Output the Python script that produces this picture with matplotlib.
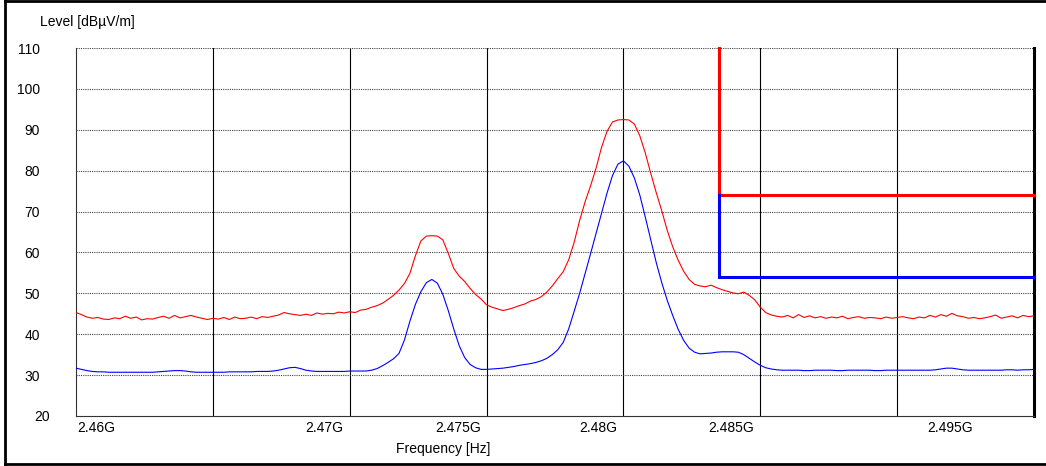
import numpy as np
import matplotlib
matplotlib.use("Agg")
import matplotlib.pyplot as plt
from matplotlib import transforms
from matplotlib.lines import Line2D

plt.rcParams['font.family'] = ['Liberation Sans', 'DejaVu Sans']
plt.rcParams['font.size'] = 10

# frequency grid of the traces, MHz (0.2 MHz steps, 2460 .. 2495)
freq_mhz = np.arange(176) * 0.2 + 2460.0

# peak detector trace, dBuV/m
peak = [
    45.3, 44.8, 44.2, 43.9, 44.1, 43.7, 43.6, 44.0, 43.8, 44.4,
    43.9, 44.2, 43.5, 43.8, 43.7, 44.1, 44.4, 43.9, 44.6, 44.0,
    44.3, 44.6, 44.2, 43.9, 43.6, 43.9, 43.7, 44.1, 43.6, 44.2,
    43.8, 43.9, 44.2, 43.8, 44.3, 44.1, 44.4, 44.7, 45.3, 45.0,
    44.8, 44.6, 44.9, 44.6, 45.2, 44.9, 45.1, 45.0, 45.4, 45.2,
    45.5, 45.3, 45.9, 46.1, 46.6, 47.0, 47.6, 48.5, 49.5, 50.8,
    52.4, 54.9, 59.2, 62.8, 64.0, 64.1, 64.0, 63.1, 59.8, 56.1,
    54.2, 52.9, 51.2, 49.7, 48.6, 47.2, 46.6, 46.2, 45.8, 46.1,
    46.5, 47.0, 47.4, 48.1, 48.5, 49.2, 50.3, 51.8, 53.6, 55.3,
    58.2, 62.5, 67.8, 72.4, 76.3, 80.6, 85.7, 89.6, 91.9, 92.4,
    92.5, 92.4, 91.4, 88.5, 84.3, 79.3, 74.6, 70.2, 65.4, 61.4,
    58.1, 55.4, 53.4, 52.2, 51.8, 51.6, 52.0, 51.4, 50.9, 50.5,
    50.1, 49.9, 50.3, 49.5, 48.4, 46.6, 45.3, 44.7, 44.4, 44.2,
    44.6, 44.0, 44.8, 44.1, 44.5, 44.0, 44.3, 43.9, 44.2, 44.0,
    44.4, 43.8, 44.1, 44.3, 43.9, 44.1, 44.0, 43.8, 44.2, 43.9,
    44.1, 44.3, 44.0, 43.8, 44.2, 44.0, 44.6, 44.2, 44.8, 44.4,
    45.1, 44.5, 44.3, 43.9, 44.1, 43.8, 44.0, 44.3, 44.7, 43.9,
    44.2, 44.5, 44.0, 44.6, 44.3, 44.5,
]

# average detector trace, dBuV/m
average = [
    31.7, 31.4, 31.1, 30.9, 30.8, 30.8, 30.7, 30.7, 30.7, 30.7,
    30.7, 30.7, 30.7, 30.7, 30.7, 30.8, 30.9, 31.0, 31.1, 31.1,
    31.0, 30.8, 30.7, 30.7, 30.7, 30.7, 30.7, 30.7, 30.8, 30.8,
    30.8, 30.8, 30.8, 30.9, 30.9, 30.9, 31.0, 31.2, 31.5, 31.8,
    31.9, 31.6, 31.2, 31.0, 30.9, 30.9, 30.9, 30.9, 30.9, 30.9,
    31.0, 31.0, 31.0, 31.0, 31.2, 31.6, 32.3, 33.1, 34.0, 35.3,
    38.6, 43.2, 47.3, 50.4, 52.6, 53.4, 52.5, 49.8, 45.8, 41.3,
    37.2, 34.3, 32.6, 31.8, 31.4, 31.4, 31.5, 31.6, 31.7, 31.9,
    32.1, 32.4, 32.6, 32.8, 33.1, 33.5, 34.1, 35.0, 36.2, 38.0,
    41.3, 45.6, 50.0, 54.8, 59.7, 64.6, 69.6, 74.5, 78.8, 81.6,
    82.4, 81.1, 78.2, 74.0, 68.6, 63.0, 57.5, 52.6, 48.3, 44.6,
    41.2, 38.5, 36.6, 35.6, 35.2, 35.3, 35.4, 35.6, 35.7, 35.7,
    35.7, 35.6, 35.0, 34.1, 33.2, 32.4, 31.8, 31.5, 31.3, 31.2,
    31.2, 31.2, 31.2, 31.1, 31.1, 31.2, 31.2, 31.2, 31.2, 31.1,
    31.1, 31.2, 31.2, 31.2, 31.2, 31.2, 31.1, 31.1, 31.2, 31.2,
    31.2, 31.2, 31.2, 31.2, 31.2, 31.2, 31.2, 31.3, 31.5, 31.7,
    31.7, 31.5, 31.3, 31.2, 31.2, 31.2, 31.2, 31.2, 31.2, 31.2,
    31.3, 31.3, 31.2, 31.3, 31.3, 31.4,
]

# limit lines (restricted band edge at 2483.5 MHz)
limit_freq = [2483.5, 2483.5, 2495.0]
peak_limit = [110, 74, 74]
avg_limit = [74, 54, 54]

# axis setup
x_grid = [2460, 2465, 2470, 2475, 2480, 2485, 2490, 2495]
y_ticks = [20, 30, 40, 50, 60, 70, 80, 90, 100, 110]
x_labels = ['2.46G', '2.47G', '2.475G', '2.48G', '2.485G', '2.495G']
x_label_pos = [2460, 2470, 2475, 2480, 2485, 2493]

W, H = 1046, 466
fig = plt.figure(figsize=(W / 100, H / 100), dpi=100)
ax = fig.add_axes([76 / W, 50 / H, 958 / W, 368 / H])

ax.plot(freq_mhz, peak, color='#ff0000', lw=0.8, zorder=3)
ax.plot(freq_mhz, average, color='#0000ff', lw=0.8, zorder=3)
ax.plot(limit_freq, peak_limit, color='#ff0000', lw=2.2, zorder=4,
        solid_joinstyle='miter', clip_on=False)
ax.plot(limit_freq, avg_limit, color='#0000ff', lw=2.2, zorder=4,
        solid_joinstyle='miter', clip_on=False)

ax.set_xlim(2460, 2495)
ax.set_ylim(20, 110)

# grid: solid verticals, dotted horizontals
ax.set_xticks(x_grid)
ax.set_xticklabels([])
ax.set_yticks(y_ticks)
# the bottom label sits further right, drawn separately below
ax.set_yticklabels([''] + [str(v) for v in y_ticks[1:]])
ax.tick_params(length=0, labelsize=10, pad=26)
for t in ax.get_yticklabels():
    t.set_ha('right')
ytrans = transforms.blended_transform_factory(ax.transAxes, ax.transData)
ytr = transforms.offset_copy(ytrans, fig=fig, x=-26, y=-1, units='dots')
ax.text(0, y_ticks[0], str(y_ticks[0]), transform=ytr, ha='right', va='center')

for x in x_grid[1:-1]:
    ax.axvline(x, color='black', lw=0.8, zorder=1)
for y in y_ticks[1:]:
    ax.axhline(y, color='#444444', lw=0.8, ls=(0, (1, 1)), zorder=1)

ax.spines['top'].set_visible(False)
ax.spines['left'].set_color('#333333')
ax.spines['left'].set_linewidth(0.8)
ax.spines['bottom'].set_color('#333333')
ax.spines['bottom'].set_linewidth(0.8)
ax.spines['right'].set_color('black')
ax.spines['right'].set_linewidth(2.2)

# x labels: first left aligned, rest right aligned next to their grid line
trans = transforms.blended_transform_factory(ax.transData, ax.transAxes)
for i, (lab, pos) in enumerate(zip(x_labels, x_label_pos)):
    if i == 0:
        tr = transforms.offset_copy(trans, fig=fig, x=1, y=-12, units='dots')
        ax.text(pos, 0, lab, transform=tr, ha='left', va='center')
    else:
        tr = transforms.offset_copy(trans, fig=fig, x=-6, y=-12, units='dots')
        ax.text(pos, 0, lab, transform=tr, ha='right', va='center')

fig.text(396 / W, 1 - 449 / H, 'Frequency [Hz]', ha='left', va='center')
fig.text(40 / W, 1 - 22 / H, 'Level [dBµV/m]', ha='left', va='center')

# outer frame of the picture
for xs, ys in [([5, 5], [1, 464]), ([5, 1046], [1, 1]), ([5, 1046], [464, 464])]:
    fig.add_artist(Line2D([v / W for v in xs], [1 - v / H for v in ys],
                          color='black', lw=2.0, transform=fig.transFigure))

fig.savefig('out.png', dpi=100)
